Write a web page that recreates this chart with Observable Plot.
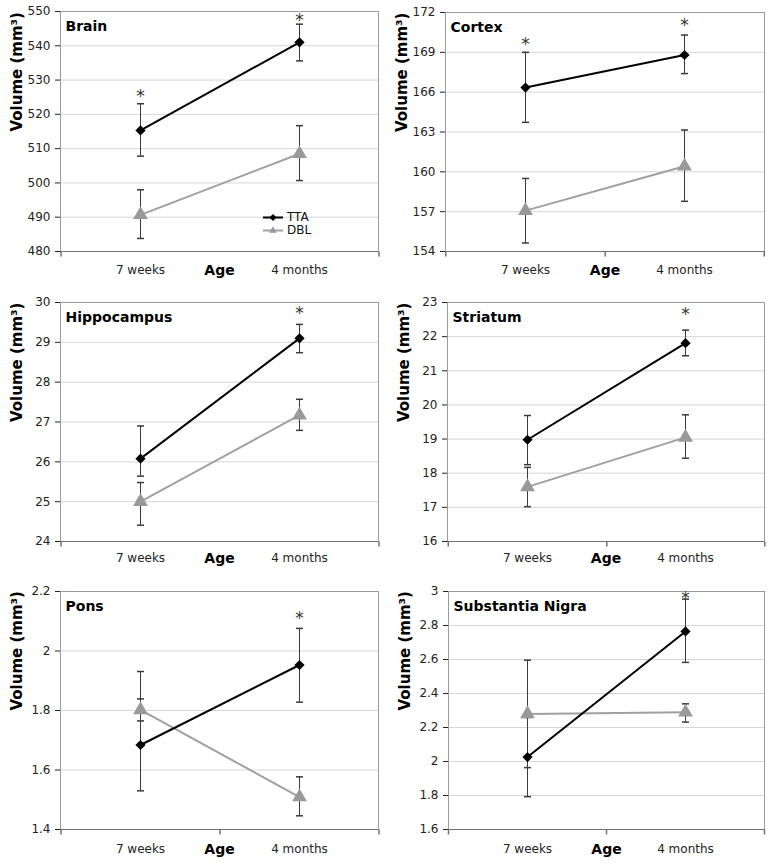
<!DOCTYPE html>
<html><head><meta charset="utf-8">
<script src="https://cdn.jsdelivr.net/npm/d3@7"></script>
<script src="https://cdn.jsdelivr.net/npm/@observablehq/plot@0.6"></script>
<style>
body{margin:0;background:#fff;}
#wrap{position:relative;width:774px;height:864px;font-family:"DejaVu Sans",Verdana,sans-serif;background:#fff;}
.panel{position:absolute;}
#legend{position:absolute;font-size:12px;color:#111;}
</style></head><body><div id="wrap"></div>
<script>
// ---- data ----
const ages = ["7 weeks", "4 months"];
const groups = ["TTA", "DBL"];
const regions = ["Brain", "Cortex", "Hippocampus", "Striatum", "Pons", "Substantia Nigra"];
const yDomains = [[480, 550], [154, 172], [24, 30], [16, 23], [1.4, 2.2], [1.6, 3]];
const yTicks = [
  [480, 490, 500, 510, 520, 530, 540, 550],
  [154, 157, 160, 163, 166, 169, 172],
  [24, 25, 26, 27, 28, 29, 30],
  [16, 17, 18, 19, 20, 21, 22, 23],
  [1.4, 1.6, 1.8, 2, 2.2],
  [1.6, 1.8, 2, 2.2, 2.4, 2.6, 2.8, 3]
];
const ttaMean = [[515.3, 541.0], [166.35, 168.8], [26.08, 29.1], [18.98, 21.81], [1.684, 1.953], [2.026, 2.765]];
const ttaLow  = [[507.8, 535.6], [163.73, 167.4], [25.64, 28.74], [18.25, 21.44], [1.530, 1.828], [1.793, 2.583]];
const ttaHigh = [[523.1, 546.3], [169.0, 170.3], [26.9, 29.45], [19.69, 22.19], [1.931, 2.076], [2.259, 2.955]];
const dblMean = [[490.7, 508.5], [157.08, 160.42], [25.0, 27.17], [17.6, 19.05], [1.802, 1.509], [2.28, 2.29]];
const dblLow  = [[483.8, 500.7], [154.64, 157.78], [24.41, 26.79], [17.02, 18.44], [1.765, 1.446], [1.964, 2.232]];
const dblHigh = [[498.0, 516.7], [159.5, 163.15], [25.48, 27.57], [18.17, 19.71], [1.839, 1.577], [2.596, 2.339]];
const starY   = [[526.5, 548.5], [169.9, 171.3], [null, 29.83], [null, 22.76], [null, 2.124], [null, 2.98]];

// ---- layout (styling only) ----
const panels = [
  {left: 0,   top: 0,   w: 387, h: 285, m: [11, 9, 34, 60], lab: 19, mid: false},
  {left: 387, top: 0,   w: 387, h: 285, m: [12, 10, 34, 58], lab: 19, mid: true},
  {left: 0,   top: 285, w: 387, h: 285, m: [17, 9, 29, 60], lab: 17, mid: false},
  {left: 387, top: 285, w: 387, h: 285, m: [17, 10, 29, 60], lab: 17, mid: true},
  {left: 0,   top: 570, w: 387, h: 294, m: [21, 9, 35, 60], lab: 20, mid: true},
  {left: 387, top: 570, w: 387, h: 294, m: [21, 10, 35, 61], lab: 20, mid: true}
];

const capSymbol = {draw(ctx) { ctx.moveTo(-3.5, 0); ctx.lineTo(3.5, 0); }};
const vtick = {draw(ctx) { ctx.moveTo(0, 0); ctx.lineTo(0, 5); }};

const wrap = document.getElementById("wrap");

regions.forEach((name, p) => {
  const L = panels[p];
  const [mt, mr, mb, ml] = L.m;
  const innerW = L.w - ml - mr;
  const step = innerW / 2;
  const rows = ages.flatMap((a, i) => [
    {age: a, group: "TTA", mean: ttaMean[p][i], lo: ttaLow[p][i], hi: ttaHigh[p][i]},
    {age: a, group: "DBL", mean: dblMean[p][i], lo: dblLow[p][i], hi: dblHigh[p][i]}
  ]);
  const tta = rows.filter(d => d.group === "TTA");
  const dbl = rows.filter(d => d.group === "DBL");
  const stars = ages.map((a, i) => ({age: a, y: starY[p][i]})).filter(d => d.y != null);
  const ymin = yDomains[p][0];

  const marks = [
    Plot.ruleY(yTicks[p], {stroke: "#d6d6d6"}),
    Plot.frame({stroke: "#9a9a9a"}),
    Plot.ruleY([ymin], {stroke: "#707070"}),
    // category boundary ticks on the x axis
    Plot.dot([ages[0]], {x: d => d, y: () => ymin, symbol: vtick, stroke: "#707070", fill: "none", dx: -step / 2}),
    Plot.dot([ages[1]], {x: d => d, y: () => ymin, symbol: vtick, stroke: "#707070", fill: "none", dx: step / 2}),
    ...(L.mid ? [Plot.dot([ages[0]], {x: d => d, y: () => ymin, symbol: vtick, stroke: "#707070", fill: "none", dx: step / 2})] : []),
    // error bars
    Plot.ruleX(rows, {x: "age", y1: "lo", y2: "hi", stroke: "#3a3a3a", strokeWidth: 1}),
    Plot.dot(rows, {x: "age", y: "lo", symbol: capSymbol, stroke: "#3a3a3a", fill: "none"}),
    Plot.dot(rows, {x: "age", y: "hi", symbol: capSymbol, stroke: "#3a3a3a", fill: "none"}),
    // lines
    Plot.line(dbl, {x: "age", y: "mean", stroke: "#a0a0a0", strokeWidth: 2}),
    Plot.line(tta, {x: "age", y: "mean", stroke: "#000", strokeWidth: 2}),
    Plot.dot(dbl, {x: "age", y: "mean", symbol: "triangle", r: 5.5, fill: "#999", stroke: "none"}),
    Plot.dot(tta, {x: "age", y: "mean", symbol: "diamond2", r: 4.6, fill: "#000", stroke: "none"}),
    // asterisks
    Plot.text(stars, {x: "age", y: "y", text: () => "*", fontSize: 17, fill: "#333", lineAnchor: "middle", dy: 4}),
    // panel title
    Plot.text([name], {frameAnchor: "top-left", dx: 5, dy: 15, lineAnchor: "middle", textAnchor: "start", fontWeight: "bold", fontSize: 14, fill: "#000"}),
    // axis titles
    Plot.text(["Age"], {frameAnchor: "bottom", dy: L.lab, lineAnchor: "middle", fontWeight: "bold", fontSize: 14, fill: "#000"}),
    Plot.text(["Volume (mm³)"], {frameAnchor: "left", dx: -43, rotate: -90, lineAnchor: "middle", fontWeight: "bold", fontSize: 15, fill: "#000"})
  ];

  const chart = Plot.plot({
    width: L.w,
    height: L.h,
    marginTop: mt, marginRight: mr, marginBottom: mb, marginLeft: ml,
    style: {fontFamily: "DejaVu Sans, Verdana, sans-serif", fontSize: "12px", color: "#222", background: "transparent", overflow: "visible"},
    x: {type: "point", domain: ages, padding: 0.5, tickSize: 0, tickPadding: L.lab - 5, label: null},
    y: {domain: yDomains[p], ticks: yTicks[p], tickSize: 5, tickPadding: 5, label: null, tickFormat: d => String(d)},
    marks
  });
  chart.classList.add("panel");
  chart.style.left = L.left + "px";
  chart.style.top = L.top + "px";
  wrap.appendChild(chart);
});

// legend (Brain panel)
const legend = document.createElement("div");
legend.id = "legend";
legend.style.left = "259px";
legend.style.top = "211px";
const sym = (type, r) => d3.symbol(type, Math.PI * r * r)();
legend.innerHTML = groups.map((g, i) => {
  const color = i === 0 ? "#000" : "#999";
  const path = i === 0 ? sym(d3.symbolDiamond2, 3.2) : sym(d3.symbolTriangle2, 3.6);
  return `<div style="display:flex;align-items:center;height:13px;line-height:13px">
    <svg width="26" height="13" style="display:block"><line x1="4" x2="24" y1="6.5" y2="6.5" stroke="${i === 0 ? "#000" : "#a0a0a0"}" stroke-width="2"/>
    <path d="${path}" transform="translate(14,6.5)" fill="${color}"/></svg><span style="margin-left:2px;line-height:13px">${g}</span></div>`;
}).join("");
wrap.appendChild(legend);
</script>
</body></html>
